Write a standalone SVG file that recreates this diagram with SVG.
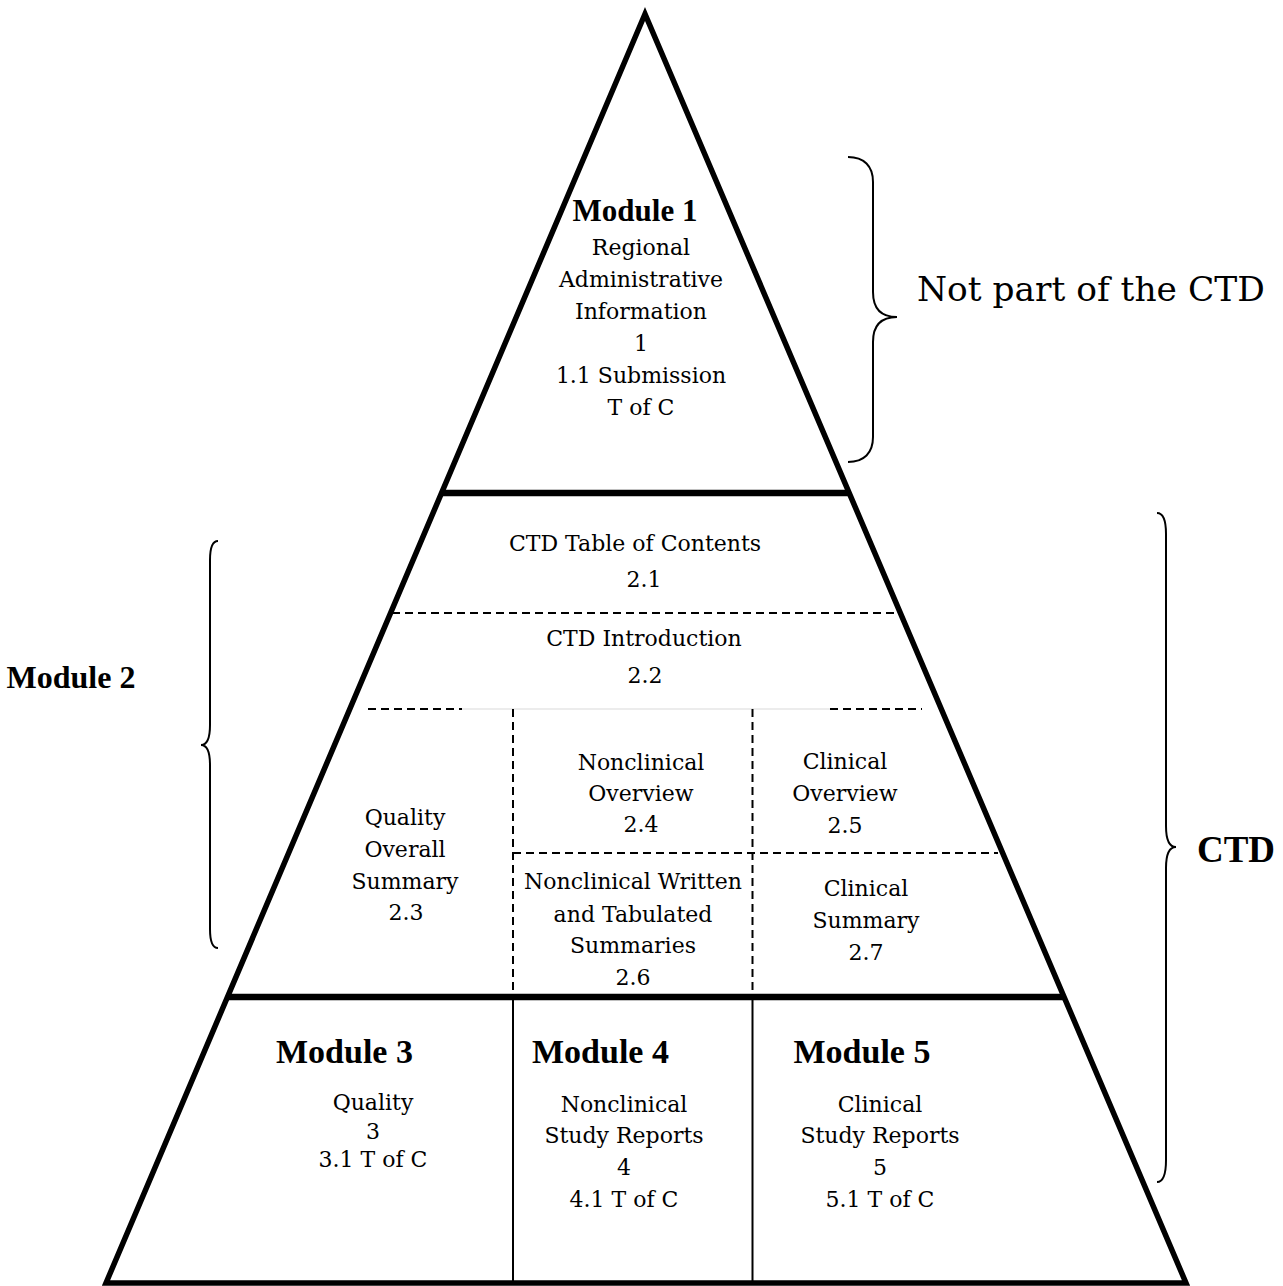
<svg xmlns="http://www.w3.org/2000/svg" width="1283" height="1286" viewBox="0 0 1283 1286">
<style>
  .t { font-family: "DejaVu Serif", "Liberation Serif", serif; font-size: 22px; fill: #000; text-anchor: middle; }
  .b { font-family: "Liberation Serif", "Times New Roman", serif; font-weight: bold; fill: #000; text-anchor: middle; }
  .outline { fill: none; stroke: #000; stroke-width: 5.5; stroke-linejoin: miter; }
  .thick { stroke: #000; stroke-width: 6.5; fill: none; }
  .thin { stroke: #000; stroke-width: 2; fill: none; }
  .dash { stroke: #000; stroke-width: 2; stroke-dasharray: 8 5; fill: none; }
  .faint { stroke: #e6e6e6; stroke-width: 1.5; fill: none; }
  .brace { stroke: #000; stroke-width: 2; fill: none; }
</style>
<rect width="1283" height="1286" fill="#fff"/>

<g id="pyramid">
  <polygon class="outline" points="645,14 106,1283 1186,1283"/>
</g>

<g id="connectors">
  <line class="thick" x1="441" y1="493" x2="850" y2="493"/>
  <line class="thick" x1="227" y1="997" x2="1063" y2="997"/>
  <line class="dash" x1="392" y1="613" x2="896" y2="613"/>
  <line class="faint" x1="460" y1="709" x2="830" y2="709"/>
  <line class="dash" x1="368" y1="709" x2="462" y2="709"/>
  <line class="dash" x1="830" y1="709" x2="922" y2="709"/>
  <line class="dash" x1="513" y1="709" x2="513" y2="994"/>
  <line class="dash" x1="752.5" y1="709" x2="752.5" y2="994"/>
  <line class="dash" x1="513" y1="853" x2="998" y2="853"/>
  <line class="thin" x1="513" y1="1000" x2="513" y2="1281"/>
  <line class="thin" x1="752.5" y1="1000" x2="752.5" y2="1281"/>
  <path id="brace-not-ctd" class="brace" d="M848,157 C864,157 873,166 873,182 L873,292 C873,308 880,317 897,317 C880,317 873,326 873,342 L873,437 C873,453 864,462 848,462"/>
  <path id="brace-module2" class="brace" d="M218,541 C213,541 210,548 210,560 L210,725 C210,738 207,745 201,745 C207,745 210,752 210,765 L210,929 C210,941 213,948 218,948"/>
  <path id="brace-ctd" class="brace" d="M1157,513 C1163,513 1166,520 1166,534 L1166,826 C1166,840 1170,847 1176,847 C1170,847 1166,854 1166,868 L1166,1160 C1166,1174 1163,1182 1157,1182"/>
</g>

<g id="module1">
  <text class="b" x="635" y="221" font-size="31">Module 1</text>
  <text class="t" x="641" y="255">Regional</text>
  <text class="t" x="641" y="287">Administrative</text>
  <text class="t" x="641" y="319">Information</text>
  <text class="t" x="641" y="351">1</text>
  <text class="t" x="641" y="383">1.1 Submission</text>
  <text class="t" x="641" y="415">T of C</text>
</g>

<g id="label-not-ctd">
  <text x="917" y="301" style="font-family:'DejaVu Serif','Liberation Serif',serif;font-size:34.4px;fill:#000">Not part of the CTD</text>
</g>

<g id="node-2-1">
  <text class="t" x="635" y="551">CTD Table of Contents</text>
  <text class="t" x="644" y="587">2.1</text>
</g>

<g id="node-2-2">
  <text class="t" x="644" y="646">CTD Introduction</text>
  <text class="t" x="645" y="683">2.2</text>
</g>

<g id="node-2-3">
  <text class="t" x="405" y="825">Quality</text>
  <text class="t" x="405" y="857">Overall</text>
  <text class="t" x="405" y="889">Summary</text>
  <text class="t" x="406" y="920">2.3</text>
</g>

<g id="node-2-4">
  <text class="t" x="641" y="770">Nonclinical</text>
  <text class="t" x="641" y="801">Overview</text>
  <text class="t" x="641" y="832">2.4</text>
</g>

<g id="node-2-5">
  <text class="t" x="845" y="769">Clinical</text>
  <text class="t" x="845" y="801">Overview</text>
  <text class="t" x="845" y="833">2.5</text>
</g>

<g id="node-2-6">
  <text class="t" x="633" y="889">Nonclinical Written</text>
  <text class="t" x="633" y="922">and Tabulated</text>
  <text class="t" x="633" y="953">Summaries</text>
  <text class="t" x="633" y="985">2.6</text>
</g>

<g id="node-2-7">
  <text class="t" x="866" y="896">Clinical</text>
  <text class="t" x="866" y="928">Summary</text>
  <text class="t" x="866" y="960">2.7</text>
</g>

<g id="label-module2">
  <text class="b" x="71" y="688" font-size="32">Module 2</text>
</g>

<g id="label-ctd">
  <text class="b" x="1236" y="862" font-size="37">CTD</text>
</g>

<g id="module3">
  <text class="b" x="344.5" y="1063" font-size="34">Module 3</text>
  <text class="t" x="373" y="1110">Quality</text>
  <text class="t" x="373" y="1139">3</text>
  <text class="t" x="373" y="1167">3.1 T of C</text>
</g>

<g id="module4">
  <text class="b" x="600.5" y="1063" font-size="34">Module 4</text>
  <text class="t" x="624" y="1112">Nonclinical</text>
  <text class="t" x="624" y="1143">Study Reports</text>
  <text class="t" x="624" y="1175">4</text>
  <text class="t" x="624" y="1207">4.1 T of C</text>
</g>

<g id="module5">
  <text class="b" x="862" y="1063" font-size="34">Module 5</text>
  <text class="t" x="880" y="1112">Clinical</text>
  <text class="t" x="880" y="1143">Study Reports</text>
  <text class="t" x="880" y="1175">5</text>
  <text class="t" x="880" y="1207">5.1 T of C</text>
</g>
</svg>
